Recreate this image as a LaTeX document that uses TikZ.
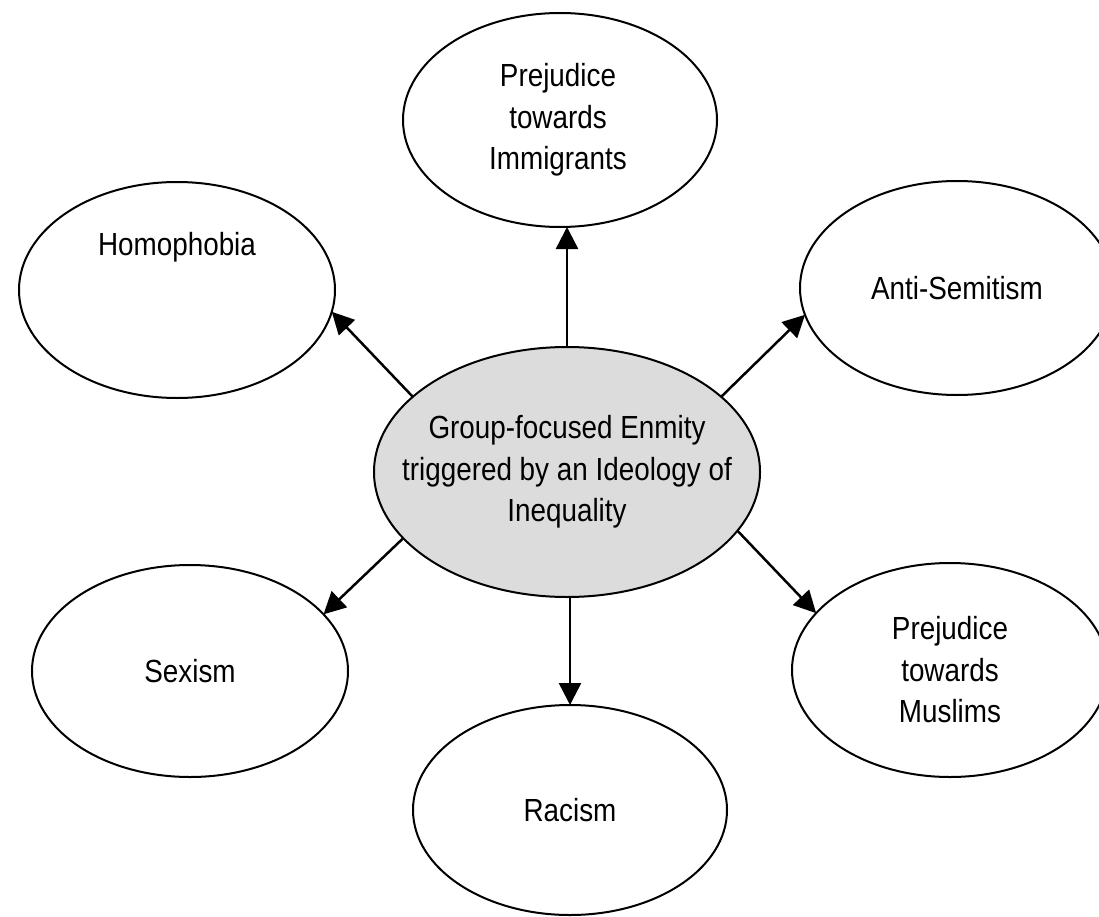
\documentclass[tikz,border=0pt]{standalone}
\usepackage{fontspec}
\setmainfont{Liberation Sans}[FakeStretch=0.87]
\usetikzlibrary{shapes.geometric,arrows.meta}
\tikzset{
  oval/.style={ellipse, draw=black, line width=2pt, inner sep=0pt, outer sep=0pt},
  txt/.style={font=\fontsize{32pt}{41.5pt}\selectfont, align=center, text=black},
  arr/.style={line width=2.5pt, -{Triangle[length=22pt,width=22pt]}}
}
\begin{document}
\begin{tikzpicture}[x=1pt,y=-1pt]
\useasboundingbox (0,0) rectangle (1099,917);
\clip (0,0) rectangle (1099,917);
\fill[white] (0,0) rectangle (1099,917);
\node[oval, fill={rgb,255:red,220;green,220;blue,220}, minimum width=386pt, minimum height=250pt,
  label={[txt]center:Group-focused Enmity\\triggered by an Ideology of\\Inequality}] (c) at (567,472) {};
\node[oval, minimum width=314pt, minimum height=214pt,
  label={[txt,xshift=-2pt]center:Prejudice\\towards\\Immigrants}] (imm) at (560,120) {};
\node[oval, minimum width=316pt, minimum height=216pt,
  label={[txt,yshift=43pt]center:Homophobia}] (homo) at (177,290) {};
\node[oval, minimum width=314pt, minimum height=214pt,
  label={[txt]center:Anti-Semitism}] (anti) at (957,288) {};
\node[oval, minimum width=316pt, minimum height=212pt,
  label={[txt]center:Sexism}] (sex) at (190,671) {};
\node[oval, minimum width=316pt, minimum height=214pt,
  label={[txt]center:Prejudice\\towards\\Muslims}] (mus) at (950,670) {};
\node[oval, minimum width=314pt, minimum height=210pt,
  label={[txt]center:Racism}] (rac) at (570,810) {};
\draw[arr] (c.north) -- (c.north |- imm.south);
\draw[arr] (rac.north |- c.south) -- (rac.north);
\draw[arr] (c.154.8) -- (homo.-8.4);
\draw[arr] (c.26.4) -- (anti.190.1);
\draw[arr] (c.202.4) -- (sex.23);
\draw[arr] (c.-19.1) -- (mus.157.6);
\end{tikzpicture}
\end{document}
